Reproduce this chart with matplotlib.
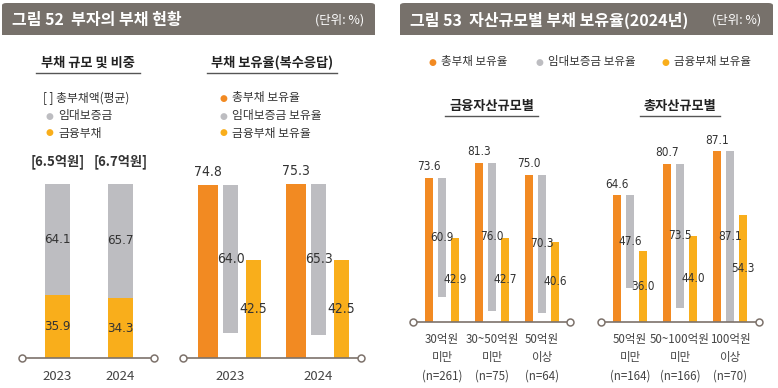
import matplotlib
matplotlib.use("Agg")
import matplotlib.pyplot as plt
from matplotlib.patches import FancyBboxPatch, Rectangle

plt.rcParams['font.family'] = ['Noto Sans CJK KR', 'DejaVu Sans']

W, H = 778, 388

# ---- data ----
years = ['2023', '2024']
avg_debt = ['[6.5억원]', '[6.7억원]']
share_deposit = [64.1, 65.7]
share_financial = [35.9, 34.3]

hold_total = [74.8, 75.3]
hold_deposit = [64.0, 65.3]
hold_financial = [42.5, 42.5]

fin_groups = ['30억원\n미만\n(n=261)', '30~50억원\n미만\n(n=75)', '50억원\n이상\n(n=64)']
fin_total = [73.6, 81.3, 75.0]
fin_deposit = [60.9, 76.0, 70.3]
fin_financial = [42.9, 42.7, 40.6]

tot_groups = ['50억원\n미만\n(n=164)', '50~100억원\n미만\n(n=166)', '100억원\n이상\n(n=70)']
tot_total = [64.6, 80.7, 87.1]
tot_deposit = [47.6, 73.5, 87.1]
tot_financial = [36.0, 44.0, 54.3]

ORANGE = '#F28A22'
GRAY = '#BDBDC1'
YELLOW = '#F9AE1B'
HEADER = '#77716B'
LINE = '#7D726B'
TXT = '#333333'

fig = plt.figure(figsize=(W / 100, H / 100), dpi=100)


def px_axes(x0, y0, x1, y1):
    """Axes from pixel box (top-left origin)."""
    return fig.add_axes([x0 / W, 1 - y1 / H, (x1 - x0) / W, (y1 - y0) / H])


def fx(x):
    return x / W


def fy(y):
    return 1 - y / H


def style_axes(ax, labels, pad, fontsize, linespacing=1.25):
    for s in ax.spines.values():
        s.set_visible(False)
    ax.set_yticks([])
    ax.set_xticks(range(len(labels)))
    ax.set_xticklabels(labels, fontsize=fontsize, color='#444444', linespacing=linespacing)
    ax.tick_params(axis='x', length=0, pad=pad)
    ax.plot([0, 1], [0, 0], transform=ax.get_yaxis_transform(), color=LINE, lw=1.2,
            marker='o', ms=5, mfc='white', mec=LINE, mew=1.1, clip_on=False, zorder=5)


def header(x0, x1, title, unit_x):
    box = FancyBboxPatch((fx(x0), fy(35)), fx(x1 - x0), 32 / H,
                         boxstyle='round,pad=0,rounding_size=0.006',
                         transform=fig.transFigure, fc=HEADER, ec='none')
    fig.patches.append(box)
    fig.patches.append(Rectangle((fx(x0), fy(35)), fx(x1 - x0), 16 / H,
                                 transform=fig.transFigure, fc=HEADER, ec='none'))
    fig.text(fx(x0 + 10), fy(20), title, color='white', fontsize=11.5,
             weight='bold', va='center', ha='left')
    fig.text(fx(unit_x), fy(20), '(단위: %)', color='white', fontsize=9,
             va='center', ha='right')


def subtitle(xc, y, text, x0, x1):
    fig.text(fx(xc), fy(y), text, fontsize=9.5, weight='bold', color='#222222',
             ha='center', va='center')
    fig.add_artist(plt.Line2D([fx(x0), fx(x1)], [fy(y + 10), fy(y + 10)],
                              color='#555555', lw=1.0))


def dot(x, y, color, text, fs=8.5):
    fig.text(fx(x), fy(y), '●', color=color, fontsize=6.5, ha='center', va='center',
             family='DejaVu Sans')
    fig.text(fx(x + 9), fy(y), text, fontsize=fs, color=TXT, ha='left', va='center')


def grouped(ax, n, total, deposit, financial, off, w_or, w_gr, w_ye, fs, top_pad=6, stretch='normal'):
    kw = dict(ha='center', va='center', fontsize=fs, color=TXT, family='DejaVu Sans',
              fontstretch=stretch)
    for i in range(n):
        ax.bar(i - off, total[i], width=w_or, color=ORANGE, zorder=2)
        ax.bar(i, deposit[i], bottom=total[i] - deposit[i], width=w_gr, color=GRAY, zorder=2)
        ax.bar(i + off, financial[i], width=w_ye, color=YELLOW, zorder=2)
        ax.annotate(f'{total[i]:.1f}', (i - off, total[i]), xytext=(0, top_pad),
                    textcoords='offset points', **kw)
        ax.text(i, total[i] - deposit[i] / 2, f'{deposit[i]:.1f}', **kw)
        ax.text(i + off, financial[i] / 2, f'{financial[i]:.1f}', **kw)


# ---- headers ----
header(2, 375, '그림 52  부자의 부채 현황', 364)
header(400, 773, '그림 53  자산규모별 부채 보유율(2024년)', 761)

# ---- fig 52 left: stacked share ----
subtitle(88, 63, '부채 규모 및 비중', 36, 140)
fig.text(fx(43), fy(98), '[ ] 총부채액(평균)', fontsize=8.5, color=TXT, ha='left', va='center')
dot(49, 116, GRAY, '임대보증금')
dot(49, 133, YELLOW, '금융부채')

axA = px_axes(22, 140, 154, 358)
axA.set_xlim(-0.563, 1.532)
axA.set_ylim(0, 125)
xA = list(range(len(years)))
axA.bar(xA, share_financial, width=0.4, color=YELLOW, zorder=2)
axA.bar(xA, share_deposit, bottom=share_financial, width=0.4, color=GRAY, zorder=2)
num_kw = dict(ha='center', va='center', fontsize=9.5, color=TXT, family='DejaVu Sans',
              fontstretch='condensed')
for i in xA:
    axA.text(i, share_financial[i] / 2, f'{share_financial[i]:.1f}', **num_kw)
    axA.text(i, share_financial[i] + share_deposit[i] / 2, f'{share_deposit[i]:.1f}', **num_kw)
    axA.annotate(avg_debt[i], (i, share_financial[i] + share_deposit[i]), xytext=(0, 16),
                 textcoords='offset points', ha='center', va='center', fontsize=9.5,
                 weight='bold', color=TXT)
style_axes(axA, years, 9, 9.5)

# ---- fig 52 right: holding rate ----
subtitle(272, 63, '부채 보유율(복수응답)', 207, 337)
dot(223, 98, ORANGE, '총부채 보유율')
dot(223, 116, GRAY, '임대보증금 보유율')
dot(223, 133, YELLOW, '금융부채 보유율')

axB = px_axes(183, 140, 361, 358)
axB.set_xlim(-0.54, 1.483)
axB.set_ylim(0, 94.2)
grouped(axB, len(years), hold_total, hold_deposit, hold_financial,
        0.256, 0.227, 0.17, 0.17, 10, top_pad=9, stretch='condensed')
style_axes(axB, years, 9, 9.5)

# ---- fig 53 ----
dot(432, 62, ORANGE, '총부채 보유율', fs=8.3)
dot(539, 62, GRAY, '임대보증금 보유율', fs=8.3)
dot(665, 62, YELLOW, '금융부채 보유율', fs=8.3)

subtitle(492, 106, '금융자산규모별', 445, 538)
subtitle(680, 106, '총자산규모별', 640, 720)

axC = px_axes(413, 130, 570, 321.7)
axC.set_xlim(-0.58, 2.56)
axC.set_ylim(0, 98)
grouped(axC, len(fin_groups), fin_total, fin_deposit, fin_financial,
        0.26, 0.16, 0.16, 0.16, 8.5, top_pad=8, stretch='condensed')
style_axes(axC, fin_groups, 8, 8.3, linespacing=1.55)

axD = px_axes(601, 130, 759, 321.7)
axD.set_xlim(-0.58, 2.58)
axD.set_ylim(0, 98)
grouped(axD, len(tot_groups), tot_total, tot_deposit, tot_financial,
        0.26, 0.16, 0.16, 0.16, 8.5, top_pad=8, stretch='condensed')
style_axes(axD, tot_groups, 8, 8.3, linespacing=1.55)

fig.savefig('out.png', dpi=100)
